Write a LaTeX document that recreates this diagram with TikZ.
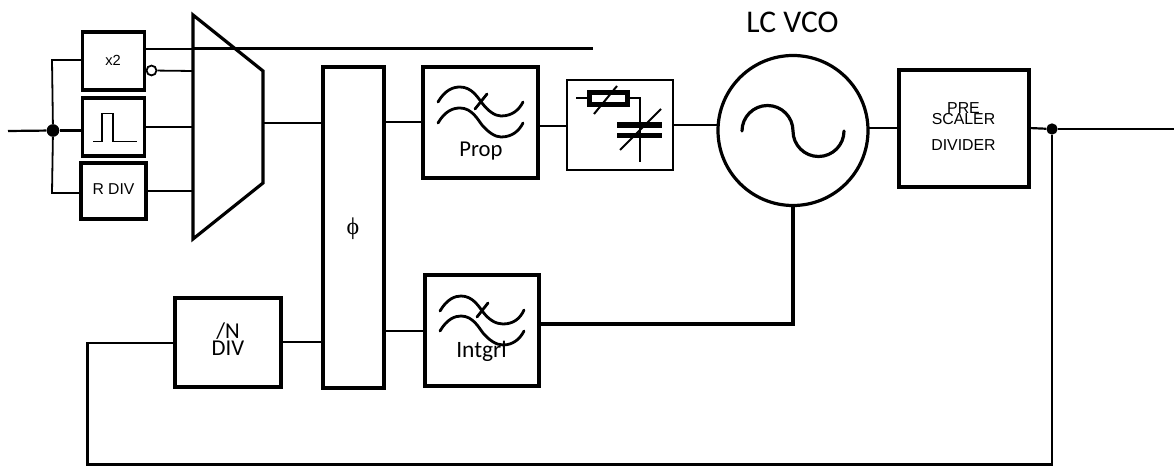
\documentclass[tikz,border=0pt]{standalone}
\usepackage{fontspec}
\setmainfont{Liberation Sans}
\newfontfamily\calibfont{Carlito}
\newfontfamily\phifont{Liberation Serif}
\begin{document}
\begin{tikzpicture}[x=0.75pt,y=-0.75pt,line join=miter,
  wire/.style={draw=black,line width=2.2pt*0.75},
  thin wire/.style={draw=black,line width=1.8pt*0.75},
  heavy/.style={draw=black,line width=3.2pt*0.75},
  blk/.style={draw=black,line width=3.2pt*0.75,inner sep=0pt,outer sep=0pt,align=center},
  thinblk/.style={draw=black,line width=1.8pt*0.75,inner sep=0pt,outer sep=0pt},
  dotn/.style={circle,fill=black,draw=none,inner sep=0pt,minimum size=9.5pt},
  curve/.style={draw=black,line width=2.8pt*0.75,line cap=round},
  lbl/.style={inner sep=0pt,outer sep=0pt,align=center}]
\useasboundingbox (0,0) rectangle (1174,466);
% boxes
\node[blk,minimum width=46.5pt,minimum height=43.5pt] (x2) at (113.5,61) {};
\node[blk,minimum width=46.5pt,minimum height=43.5pt] (pulse) at (113.5,127) {};
\node[blk,minimum width=48.75pt,minimum height=42pt] (rdiv) at (113.5,191) {};
\node[blk,minimum width=45.75pt,minimum height=240.75pt] (phi) at (353.5,227.5) {};
\node[blk,minimum width=86.25pt,minimum height=83.25pt] (prop) at (480.5,122.5) {};
\node[thinblk,minimum width=79.5pt,minimum height=67.5pt] (tune) at (620,125) {};
\node[circle,draw=black,line width=3.2pt*0.75,inner sep=0pt,outer sep=0pt,minimum size=112.5pt] (vco) at (793,130.5) {};
\node[blk,minimum width=97.5pt,minimum height=87.75pt] (pre) at (964,128.5) {};
\node[blk,minimum width=79.5pt,minimum height=66.75pt] (ndiv) at (228,342.5) {};
\node[blk,minimum width=85.5pt,minimum height=83.25pt] (intg) at (482,330.5) {};
% mux
\coordinate (ma) at (193,15);
\coordinate (mb) at (263,71);
\coordinate (mc) at (263,183);
\coordinate (md) at (193,239);
\draw[heavy,line join=miter] (ma) -- (mb) -- (mc) -- (md) -- cycle;
\coordinate (m1) at (193,49);
\coordinate (m2) at (193,71);
\coordinate (m3) at (193,127);
\coordinate (m4) at (193,191);
\coordinate (mo) at (263,123);
% input
\node[dotn] (in) at (53,130.5) {};
\coordinate (src) at (8,131);
\coordinate (upl) at (52,60);
\coordinate (lol) at (52,193);
\draw[wire] (src) -- (in);
\draw[wire] (in) -- (pulse.west |- in);
\draw[thin wire] (in) -- (upl) -- (x2.west |- upl);
\draw[thin wire] (in) -- (lol) -- (rdiv.west |- lol);
% outputs of the first column
\coordinate (rail) at (593,48.5);
\draw[thin wire] (x2.east |- m1) -- (m1);
\draw[wire,line width=2.2pt] (m1 |- rail) -- (rail);
\node[circle,draw=black,fill=white,line width=1.8pt*0.75,inner sep=0pt,minimum size=7.4pt] (bub) at (151.5,70.5) {};
\draw[thin wire] (bub) -- (m2);
\draw[thin wire] (pulse.east |- m3) -- (m3);
\draw[wire] (rdiv.east |- m4) -- (m4);
\draw[wire] (mo) -- (phi.west |- mo);
% chain
\coordinate (pp) at (384,122);
\draw[wire] (pp) -- (prop.west |- pp);
\coordinate (pt) at (540,126);
\draw[wire] (pt) -- (tune.west |- pt);
\coordinate (tv) at (673,125);
\draw[wire] (tv) -- (vco.west |- tv);
\coordinate (vp) at (869,128);
\draw[wire] (vp) -- (pre.west |- vp);
\node[dotn,minimum size=8.5pt] (out) at (1052,129) {};
\coordinate (end) at (1174,129);
\draw[wire] (pre.east |- vp) -- (out);
\draw[wire] (out) -- (end);
% feedback
\coordinate (fb1) at (1052,464.5);
\coordinate (fb2) at (87.5,464.5);
\coordinate (fb3) at (87.5,343);
\draw[wire] (out) -- (fb1) -- (fb2) -- (fb3) -- (ndiv.west |- fb3);
\coordinate (np) at (281,342);
\draw[wire] (np) -- (phi.west |- np);
\coordinate (pi) at (384,331);
\draw[wire] (pi) -- (intg.west |- pi);
\coordinate (ic) at (793,324);
\draw[heavy,line width=3.4pt*0.75] (intg.east |- ic) -- (ic) -- (vco.south);
% filter glyphs
\draw[curve] (438,102) .. controls (445,90) and (453,87) .. (460,87) .. controls (472,87) and (478,98) .. (482,103) .. controls (488,111) and (495,116) .. (501,116) .. controls (512,116) and (519,110) .. (523,102);
\draw[curve] (438,123) .. controls (445,111) and (453,108) .. (460,108) .. controls (472,108) and (478,120) .. (482,125) .. controls (488,132) and (495,137) .. (501,137) .. controls (512,137) and (519,131) .. (523,123);
\draw[curve] (475,109) -- (487,94);
\draw[curve] (440,311) .. controls (447,299) and (455,296) .. (461,296) .. controls (473,296) and (479,307) .. (483,312) .. controls (489,320) and (496,324) .. (503,324) .. controls (513,324) and (520,319) .. (524,310);
\draw[curve] (440,331) .. controls (447,319) and (455,316) .. (461,316) .. controls (473,316) and (479,328) .. (483,333) .. controls (489,340) and (496,345) .. (503,345) .. controls (513,345) and (520,339) .. (524,331);
\draw[curve] (477,317) -- (488,303);
% pulse glyph
\draw[thin wire] (93,141.5) -- (102,141.5) -- (102,113.5) -- (113,113.5) -- (113,141.5) -- (137,141.5);
% sine in VCO
\draw[draw=black,line width=3.2pt*0.75,line cap=round] (742,131) arc[start angle=180,end angle=360,radius=25.5] arc[start angle=180,end angle=0,radius=25.5];
% varactor / resistor
\draw[draw=black,line width=2pt*0.75] (576,98) -- (587,98);
\draw[draw=black,line width=5pt*0.75,fill=white] (589.5,92.5) rectangle (627.5,104.5);
\draw[draw=black,line width=2pt*0.75] (594,114) -- (617,86);
\draw[draw=black,line width=2pt*0.75] (629,98) -- (640,98) -- (640,162);
\fill[black] (617,122) rectangle (662,128);
\fill[black] (617,133) rectangle (662,138);
\draw[draw=black,line width=2pt*0.75] (620,150) -- (661,109);
% labels
\node[lbl,font=\fontsize{11pt}{12pt}\selectfont] (t1) at (113,60) {x2};
\node[lbl,font=\fontsize{11.8pt}{12pt}\selectfont] (t2) at (113.5,189) {R DIV};
\node[lbl,font=\calibfont\fontsize{17pt}{18pt}\selectfont] (t3) at (481,151) {Prop};
\node[lbl,font=\calibfont\fontsize{23.7pt}{25pt}\selectfont] (t4) at (792.5,22) {LC VCO};
\node[lbl,font=\fontsize{11.9pt}{12pt}\selectfont] (t5) at (963.5,108) {PRE};
\node[lbl,font=\fontsize{11.9pt}{12pt}\selectfont] (t6) at (963.5,119.5) {SCALER};
\node[lbl,font=\fontsize{11.9pt}{12pt}\selectfont] (t7) at (963.5,145.5) {DIVIDER};
\node[lbl,font=\calibfont\fontsize{17pt}{18pt}\selectfont] (t8) at (228,331) {/N};
\node[lbl,font=\calibfont\fontsize{17pt}{18pt}\selectfont] (t9) at (228,348) {DIV};
\node[lbl,font=\calibfont\fontsize{17.6pt}{18pt}\selectfont] (t10) at (481.5,351.5) {Intgrl};
\node[lbl,font=\phifont\fontsize{18pt}{18pt}\selectfont] (t11) at (353,229) {ϕ};
\end{tikzpicture}
\end{document}
